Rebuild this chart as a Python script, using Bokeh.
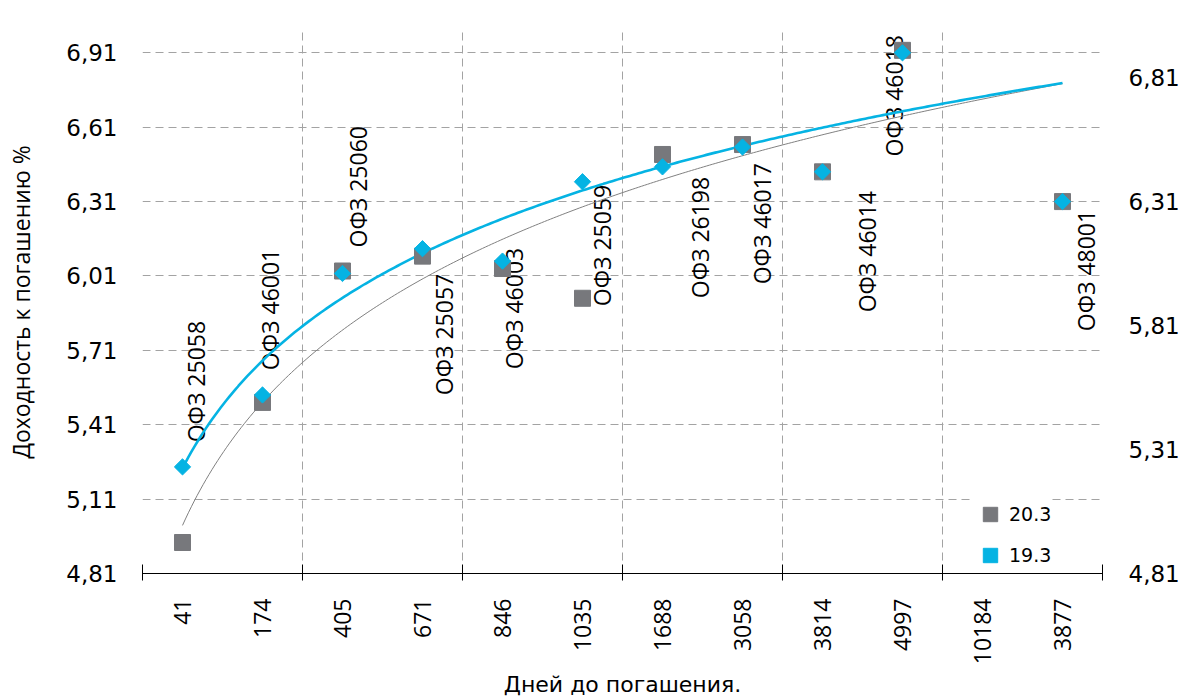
import numpy as np
from bokeh.plotting import figure
from bokeh.models import (Range1d, LinearAxis, FixedTicker, CustomJSTickFormatter,
                          ColumnDataSource, Legend, LegendItem, LabelSet)
from bokeh.core.properties import value
from bokeh.embed import file_html
from bokeh.resources import INLINE

# ---------------- data ----------------
days = ["41", "174", "405", "671", "846", "1035", "1688", "3058", "3814", "4997", "10184", "3877"]
bonds = ["ОФЗ 25058", "ОФЗ 46001", "ОФЗ 25060", "ОФЗ 25057", "ОФЗ 46003", "ОФЗ 25059",
         "ОФЗ 26198", "ОФЗ 46017", "ОФЗ 46014", "ОФЗ 46018", "", "ОФЗ 48001"]
ytm_20_3 = [4.935, 5.50, 6.03, 6.09, 6.04, 5.92, 6.50, 6.54, 6.43, 6.92, np.nan, 6.31]
ytm_19_3 = [5.24, 5.53, 6.02, 6.12, 6.07, 6.39, 6.45, 6.53, 6.43, 6.91, np.nan, 6.31]
left_ticks = [4.81, 5.11, 5.41, 5.71, 6.01, 6.31, 6.61, 6.91]
right_ticks = [4.81, 5.31, 5.81, 6.31, 6.81]
# logarithmic trendlines y = a*ln(n) + b (coefficients)
trend_20_3 = (0.717, 5.004)
trend_19_3 = (0.625, 5.235)

# ---------------- layout of the data labels (category units / axis units) ----------------
label_x = [1.175, 2.1, 3.2, 4.275, 5.15, 6.24, 7.475, 8.25, 9.56, 9.89, np.nan, 12.3]
label_y = [5.584, 5.875, 6.37, 5.774, 5.879, 6.133, 6.165, 6.221, 6.108, 6.737, np.nan, 6.032]

GRAY = "#77787c"
CYAN = "#05b3e3"
GRID = "#a3a3a3"

n = np.arange(1, len(days) + 1)

p = figure(frame_width=960, frame_height=543, x_range=Range1d(0.5, 12.5), y_range=Range1d(4.81, 7.0),
           output_backend="svg", toolbar_location=None,
           min_border_left=142, min_border_right=85, min_border_top=30, min_border_bottom=127)
p.outline_line_color = None
p.background_fill_color = "white"
p.border_fill_color = "white"

# grids
bounds = [0.5, 2.5, 4.5, 6.5, 8.5, 10.5, 12.5]
p.xgrid.ticker = FixedTicker(ticks=bounds)
for g in (p.xgrid, p.ygrid):
    g.grid_line_color = GRID
    g.grid_line_dash = "8 5"
    g.grid_line_width = 1

# x axis
xa = p.xaxis[0]
xa.ticker = FixedTicker(ticks=list(n), minor_ticks=bounds)
xa.formatter = CustomJSTickFormatter(args=dict(labels=days),
                                     code="const i = Math.round(tick) - 1; return labels[i] || '';")
xa.major_label_orientation = np.pi / 2
xa.major_label_text_font = "Open Sans"
xa.major_label_text_font_size = "23px"
xa.major_label_text_color = "black"
xa.major_label_standoff = 18
xa.major_tick_line_color = None
xa.major_tick_in = 0
xa.major_tick_out = 0
xa.minor_tick_line_color = "black"
xa.minor_tick_in = 9
xa.minor_tick_out = 7
xa.axis_line_color = "black"
xa.axis_label = "Дней до погашения."
xa.axis_label_text_font = "DejaVu Sans"
xa.axis_label_text_font_size = "22px"
xa.axis_label_text_font_style = "normal"
xa.axis_label_text_color = "black"
xa.axis_label_standoff = 5

comma_fmt = "return tick.toFixed(2).replace('.', ',');"

ya = p.yaxis[0]
ya.ticker = FixedTicker(ticks=left_ticks)
ya.formatter = CustomJSTickFormatter(code=comma_fmt)
ya.axis_line_color = None
ya.major_tick_line_color = None
ya.minor_tick_line_color = None
ya.major_tick_in = 0
ya.major_tick_out = 0
ya.major_label_standoff = 25
ya.major_label_text_font = "DejaVu Sans"
ya.major_label_text_font_size = "23px"
ya.major_label_text_color = "black"
ya.axis_label = "Доходность к погашению %"
ya.axis_label_text_font = "Open Sans"
ya.axis_label_text_font_size = "23px"
ya.axis_label_text_font_style = "normal"
ya.axis_label_text_color = "black"
ya.axis_label_standoff = 26

ra = LinearAxis(ticker=FixedTicker(ticks=right_ticks), formatter=CustomJSTickFormatter(code=comma_fmt))
ra.axis_line_color = None
ra.major_tick_line_color = None
ra.minor_tick_line_color = None
ra.major_tick_in = 0
ra.major_tick_out = 0
ra.major_label_standoff = 26
ra.major_label_text_font = "DejaVu Sans"
ra.major_label_text_font_size = "23px"
ra.major_label_text_color = "black"
p.add_layout(ra, "right")

# data labels (under the lines and markers)
lab_src = ColumnDataSource(dict(x=[x for x, b in zip(label_x, bonds) if b],
                                y=[y for y, b in zip(label_y, bonds) if b],
                                t=[b for b in bonds if b]))
labels = LabelSet(x="x", y="y", text="t", source=lab_src, angle=np.pi / 2,
                  text_align="center", text_baseline="middle",
                  text_font=value("Open Sans"), text_font_size="23px", text_color="black",
                  level="underlay")
p.add_layout(labels)

# trendlines
tx = np.linspace(1, 12, 300)
p.line(tx, trend_20_3[1] + trend_20_3[0] * np.log(tx), line_color="#808080", line_width=1)
p.line(tx, trend_19_3[1] + trend_19_3[0] * np.log(tx), line_color=CYAN, line_width=2.6)

src = ColumnDataSource(dict(n=n, a=np.array(ytm_20_3, dtype=float), b=np.array(ytm_19_3, dtype=float)))
sq = p.scatter("n", "a", source=src, marker="square", size=16, fill_color=GRAY, line_color=GRAY)
dm = p.scatter("n", "b", source=src, marker="square", size=11.5, angle=np.pi / 4,
               fill_color=CYAN, line_color=CYAN)

legend = Legend(items=[LegendItem(label="20.3", renderers=[sq]),
                       LegendItem(label="19.3", renderers=[dm])],
                location=(830, 0), orientation="vertical",
                glyph_width=36, glyph_height=36, spacing=5, padding=0, margin=0,
                label_standoff=1, label_text_font="DejaVu Sans", label_text_font_size="19px",
                label_text_color="black", background_fill_color="white", background_fill_alpha=1.0,
                border_line_color=None)
p.add_layout(legend)

open("out.html", "w").write(file_html(p, INLINE))
